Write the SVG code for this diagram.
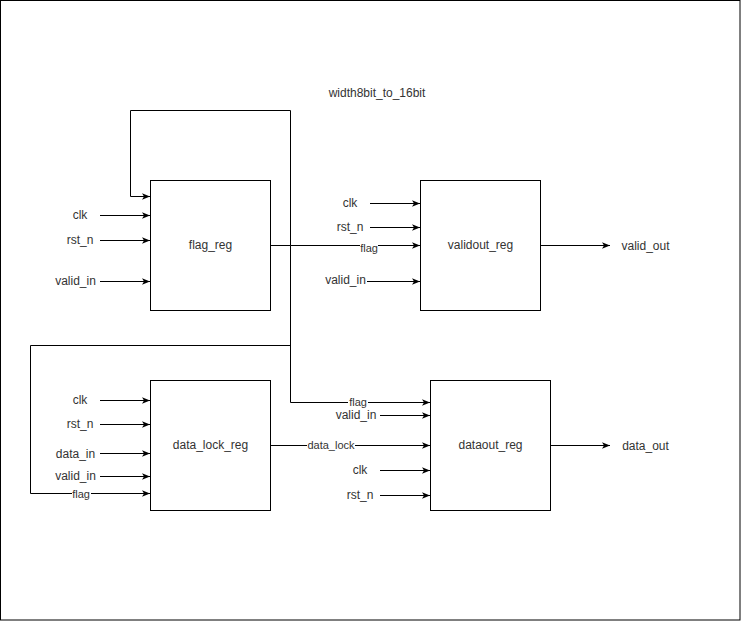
<svg xmlns="http://www.w3.org/2000/svg" width="741" height="621" viewBox="0 0 741 621">
<style>
  .box{fill:#fff;stroke:#000;stroke-width:1}
  .wire{fill:none;stroke:#000;stroke-width:1}
  .t{font-family:"Liberation Sans",Arial,sans-serif;font-size:12px;fill:#333;text-anchor:middle}
  .el{font-family:"Liberation Sans",Arial,sans-serif;font-size:11px;fill:#333;text-anchor:middle}
  .lb{fill:#fff;stroke:none}
</style>
<defs>
  <marker id="arr" viewBox="0 0 10 10" refX="10" refY="5" markerWidth="8" markerHeight="8" markerUnits="userSpaceOnUse" orient="auto">
    <path d="M0,0.8 L10,5 L0,9.2 L2.5,5 z" fill="#000"/>
  </marker>
</defs>
<rect x="0.5" y="0.5" width="739.5" height="619.5" fill="#fff" stroke="#000"/>

<g id="title"><text class="t" x="377" y="97">width8bit_to_16bit</text></g>

<g id="connectors">
  <!-- flag_reg feedback and flag distribution -->
  <path class="wire" d="M270.5,245.5 H290.5 V110.5 H130.5 V196.5 H150" marker-end="url(#arr)"/>
  <path class="wire" d="M290.5,245.5 H420" marker-end="url(#arr)"/>
  <path class="wire" d="M290.5,245.5 V402.5 H430" marker-end="url(#arr)"/>
  <path class="wire" d="M290.5,345.5 H30.5 V493.5 H150" marker-end="url(#arr)"/>
  <!-- flag_reg inputs -->
  <path class="wire" d="M100,215.5 H150" marker-end="url(#arr)"/>
  <path class="wire" d="M100,240.5 H150" marker-end="url(#arr)"/>
  <path class="wire" d="M100,281.5 H150" marker-end="url(#arr)"/>
  <text class="t" x="80" y="219">clk</text>
  <text class="t" x="80" y="244">rst_n</text>
  <text class="t" x="75.5" y="285">valid_in</text>
  <!-- validout_reg inputs -->
  <path class="wire" d="M370,203.5 H420" marker-end="url(#arr)"/>
  <path class="wire" d="M370,227.5 H420" marker-end="url(#arr)"/>
  <path class="wire" d="M367,281.5 H420" marker-end="url(#arr)"/>
  <text class="t" x="350" y="207">clk</text>
  <text class="t" x="350" y="231">rst_n</text>
  <text class="t" x="345.5" y="284">valid_in</text>
  <rect class="lb" x="360" y="242" width="18" height="12"/>
  <text class="el" x="369" y="252">flag</text>
  <!-- valid_out -->
  <path class="wire" d="M540,245.5 H610" marker-end="url(#arr)"/>
  <text class="t" x="645.5" y="250">valid_out</text>
  <!-- data_lock_reg inputs -->
  <path class="wire" d="M100,400.5 H150" marker-end="url(#arr)"/>
  <path class="wire" d="M100,424.5 H150" marker-end="url(#arr)"/>
  <path class="wire" d="M100,453.5 H150" marker-end="url(#arr)"/>
  <path class="wire" d="M100,476.5 H150" marker-end="url(#arr)"/>
  <text class="t" x="80" y="404">clk</text>
  <text class="t" x="80" y="428">rst_n</text>
  <text class="t" x="75.5" y="458">data_in</text>
  <text class="t" x="75.5" y="480">valid_in</text>
  <rect class="lb" x="72" y="488" width="19" height="12"/>
  <text class="el" x="81" y="498">flag</text>
  <!-- data_lock -->
  <path class="wire" d="M270,445.5 H430" marker-end="url(#arr)"/>
  <rect class="lb" x="307" y="439" width="48" height="12"/>
  <text class="el" x="331" y="449">data_lock</text>
  <rect class="lb" x="348" y="396" width="20" height="12"/>
  <text class="el" x="358" y="406">flag</text>
  <!-- dataout_reg inputs -->
  <path class="wire" d="M380,415.5 H430" marker-end="url(#arr)"/>
  <path class="wire" d="M380,470.5 H430" marker-end="url(#arr)"/>
  <path class="wire" d="M380,495.5 H430" marker-end="url(#arr)"/>
  <text class="t" x="356" y="419">valid_in</text>
  <text class="t" x="360" y="474">clk</text>
  <text class="t" x="360" y="499">rst_n</text>
  <!-- data_out -->
  <path class="wire" d="M550,445.5 H610" marker-end="url(#arr)"/>
  <text class="t" x="645.5" y="450">data_out</text>
</g>

<g id="flag_reg">
  <rect class="box" x="150.5" y="180.5" width="120" height="130"/>
  <text class="t" x="210.5" y="249">flag_reg</text>
</g>
<g id="validout_reg">
  <rect class="box" x="420.5" y="180.5" width="120" height="130"/>
  <text class="t" x="480.5" y="249">validout_reg</text>
</g>
<g id="data_lock_reg">
  <rect class="box" x="150.5" y="380.5" width="120" height="130"/>
  <text class="t" x="210.5" y="449">data_lock_reg</text>
</g>
<g id="dataout_reg">
  <rect class="box" x="430.5" y="380.5" width="120" height="130"/>
  <text class="t" x="490.5" y="449">dataout_reg</text>
</g>
</svg>
